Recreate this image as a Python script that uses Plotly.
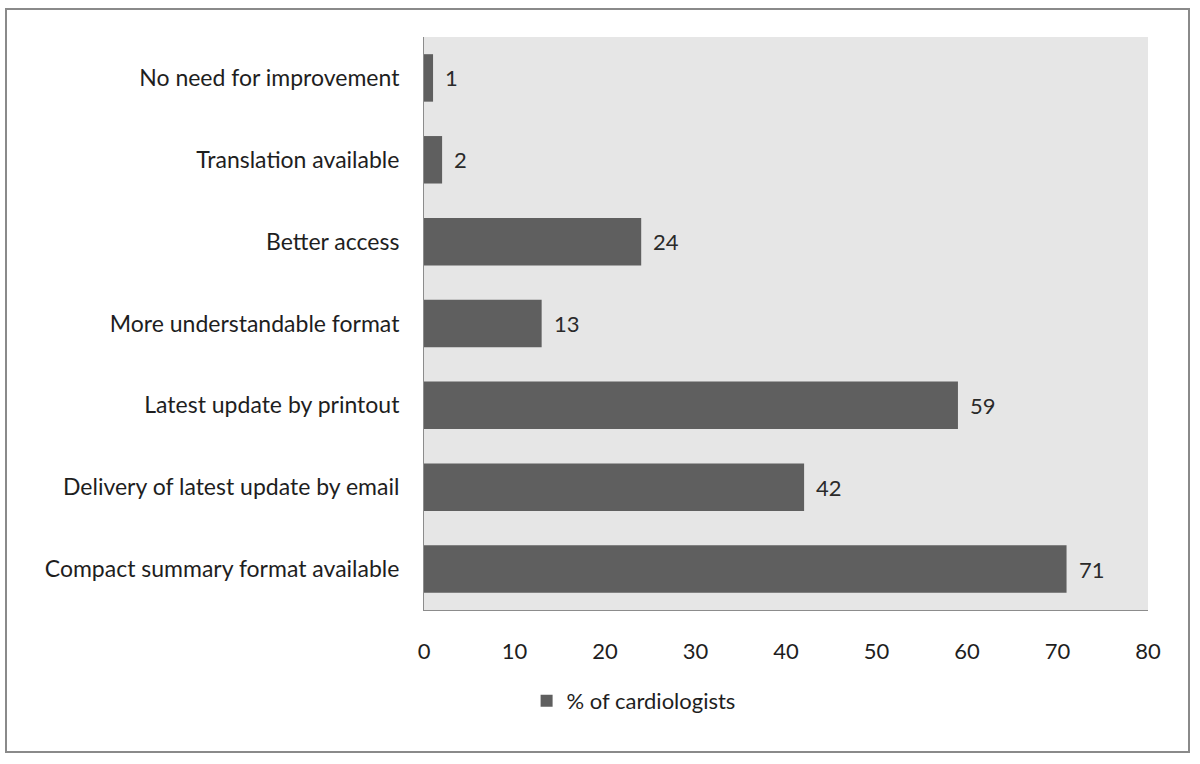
import plotly.graph_objects as go

categories = [
    "Compact summary format available",
    "Delivery of latest update by email",
    "Latest update by printout",
    "More understandable format",
    "Better access",
    "Translation available",
    "No need for improvement",
]
values = [71, 42, 59, 13, 24, 2, 1]
series_name = "% of cardiologists"
x_ticks = [0, 10, 20, 30, 40, 50, 60, 70, 80]

W, H = 1200, 764
FONT = "Lato"
FS = 23
TXT = "#1e1e1e"

fig = go.Figure()
fig.add_trace(go.Bar(
    x=values, y=categories, orientation="h", name=series_name,
    marker=dict(color="#5f5f5f", line=dict(width=0)),
    width=0.58, showlegend=True,
))

for v, c in zip(values, categories):
    fig.add_annotation(x=v, y=c, text=str(v), xanchor="left", xshift=10,
                       showarrow=False, font=dict(family=FONT, size=FS - 1, color="#2a2a2a"))

# outer border
fig.add_shape(type="rect", xref="paper", yref="paper",
              x0=6/W, x1=1189/W, y0=1-752/H, y1=1-9/H,
              line=dict(color="#8a8a8a", width=2), fillcolor="rgba(0,0,0,0)")

fig.update_layout(
    width=W, height=H,
    margin=dict(l=0, r=0, t=0, b=0),
    paper_bgcolor="white",
    plot_bgcolor="#e6e6e6",
    font=dict(family=FONT, size=FS, color=TXT),
    xaxis=dict(domain=[424/W, 1148/W], range=[0, 80], tickvals=x_ticks,
               showgrid=False, zeroline=False, showline=True,
               linecolor="#8c8c8c", linewidth=1, ticks="",
               ticklabelstandoff=22, automargin=False,
               tickfont=dict(size=FS - 1)),
    yaxis=dict(domain=[1-610/H, 1-37/H], categoryorder="array",
               categoryarray=categories, showgrid=False, zeroline=False,
               showline=True, linecolor="#8c8c8c", linewidth=1, ticks="",
               ticklabelstandoff=19, automargin=False),
    legend=dict(orientation="h", x=0.528, xanchor="center", y=1-701/H,
                yanchor="middle", font=dict(family=FONT, size=FS - 1, color=TXT),
                itemwidth=30, bgcolor="rgba(0,0,0,0)"),
)

fig.write_html("out.html", config={"displayModeBar": False},
               post_script="document.body.style.margin='0';document.body.style.padding='0';")
